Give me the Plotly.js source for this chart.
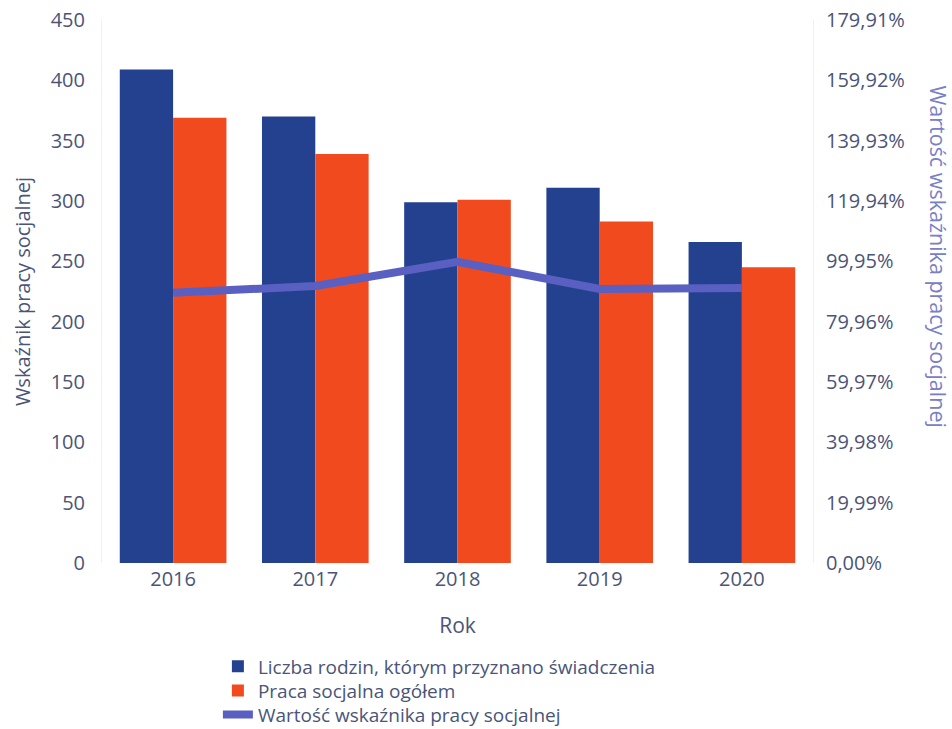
<!DOCTYPE html>
<html>
<head>
<meta charset="utf-8">
<script src="https://cdn.plot.ly/plotly-3.0.1.min.js"></script>
<style>html,body{margin:0;padding:0;background:#fff;}#chart{width:952px;height:729px;}</style>
</head>
<body>
<div id="chart"></div>
<script>
var years = ['2016', '2017', '2018', '2019', '2020'];
var families = [409, 370, 299, 311, 266];
var socialWork = [369, 339, 301, 283, 245];
var indicator = [89.5, 91.8, 99.8, 90.8, 91.1];

var leftTicks = [0, 50, 100, 150, 200, 250, 300, 350, 400, 450];
var rightTickVals = [0, 19.99, 39.98, 59.97, 79.96, 99.95, 119.94, 139.93, 159.92, 179.91];
var rightTickText = ['0,00%', '19,99%', '39,98%', '59,97%', '79,96%', '99,95%', '119,94%', '139,93%', '159,92%', '179,91%'];

var seriesNames = ['Liczba rodzin, którym przyznano świadczenia', 'Praca socjalna ogółem', 'Wartość wskaźnika pracy socjalnej'];
var txt = '#4b5578';

var traces = [
  {type: 'bar', x: years, y: families, name: seriesNames[0], legend: 'legend', marker: {color: '#24418f', line: {width: 0}}},
  {type: 'bar', x: years, y: socialWork, name: seriesNames[1], legend: 'legend2', marker: {color: '#f24a1f', line: {width: 0}}},
  {type: 'scatter', mode: 'lines', x: years, y: indicator, name: seriesNames[2], yaxis: 'y2', legend: 'legend3',
   line: {color: '#5a5fc2', width: 8}}
];

function leg(y) {
  return {
    orientation: 'v', x: 0.163, xanchor: 'left', y: y, yanchor: 'top',
    font: {size: 19, color: txt}, bgcolor: 'rgba(0,0,0,0)',
    itemwidth: 30, tracegroupgap: 0
  };
}

var layout = {
  width: 952, height: 729,
  margin: {l: 102, r: 139, t: 20, b: 166, autoexpand: false},
  paper_bgcolor: '#ffffff', plot_bgcolor: '#ffffff',
  font: {family: '"Open Sans", "DejaVu Sans", sans-serif', size: 20, color: txt},
  barmode: 'group', bargap: 0.25, bargroupgap: 0,
  showlegend: true,
  xaxis: {
    type: 'category', showgrid: false, zeroline: false, showline: false,
    ticks: '', ticklabelstandoff: 2, tickfont: {size: 20, color: txt}, automargin: false,
    title: {text: 'Rok', font: {size: 21, color: txt}, standoff: 27}
  },
  yaxis: {
    range: [0, 450], tickvals: leftTicks, showgrid: false, zeroline: false,
    showline: true, linecolor: '#f0f0f0', linewidth: 1, automargin: false,
    ticks: '', ticklabelstandoff: 12, tickfont: {size: 20, color: txt},
    title: {text: 'Wskaźnik pracy socjalnej', font: {size: 20, color: txt}, standoff: 14}
  },
  yaxis2: {
    overlaying: 'y', side: 'right', range: [0, 179.91],
    tickvals: rightTickVals, ticktext: rightTickText, automargin: false,
    showgrid: false, zeroline: false, showline: true, linecolor: '#f0f0f0',
    ticks: '', ticklabelstandoff: 8, tickfont: {size: 20, color: txt}
  },
  legend: leg(-0.1556),
  legend2: leg(-0.2),
  legend3: leg(-0.2442),
  annotations: [{
    text: 'Wartość wskaźnika pracy socjalnej', textangle: 90,
    xref: 'paper', yref: 'paper', x: 1.177, y: 0.563, xanchor: 'center', yanchor: 'middle',
    showarrow: false, font: {size: 21.5, color: '#7a80c6'}
  }]
};

Plotly.newPlot('chart', traces, layout, {displayModeBar: false, staticPlot: true});
</script>
</body>
</html>
